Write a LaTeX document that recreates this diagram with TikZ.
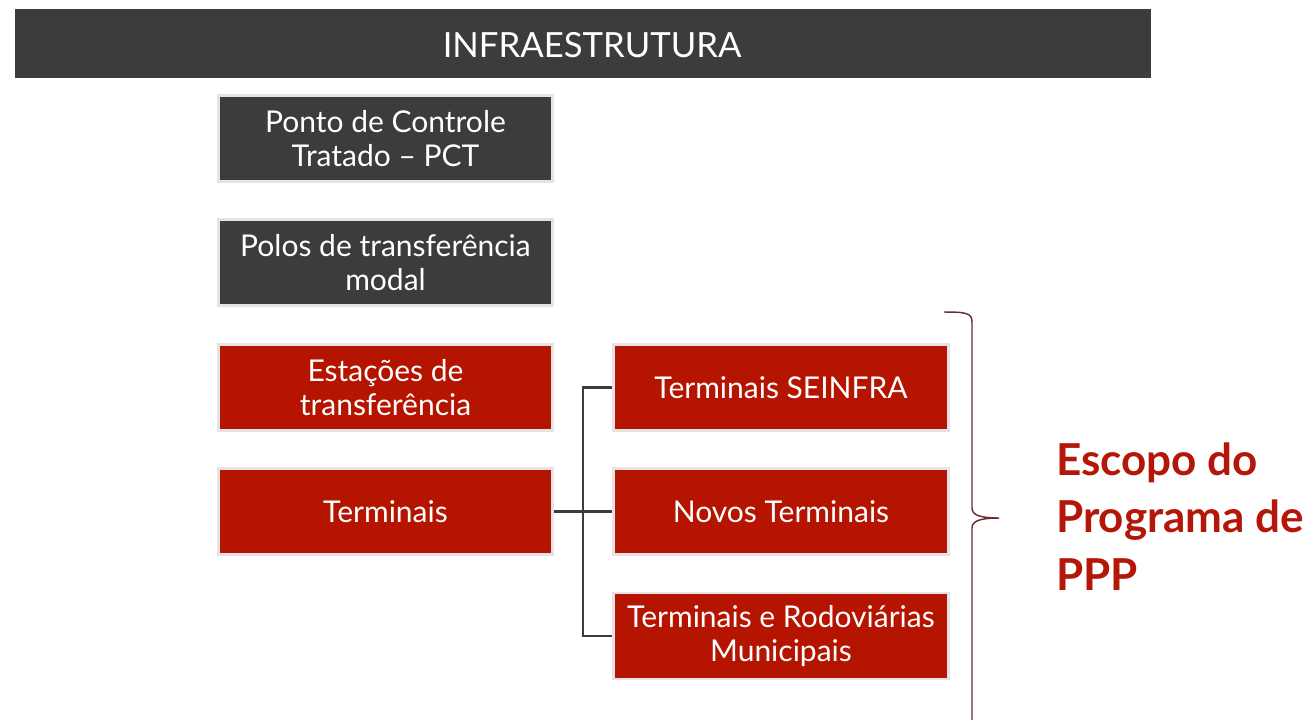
\documentclass[tikz,border=0pt]{standalone}
\usepackage{fontspec}
\setmainfont{Lato}
\usetikzlibrary{calc}
\definecolor{hdr}{RGB}{60,60,60}
\definecolor{redbox}{RGB}{180,20,0}
\definecolor{bord}{RGB}{228,228,228}
\definecolor{bracec}{RGB}{110,45,45}
\definecolor{esc}{RGB}{180,22,8}
\begin{document}
\begin{tikzpicture}[x=0.75pt,y=-0.75pt,
  box/.style={draw=bord,line width=2.2pt,minimum width=251pt,minimum height=64.5pt,
    inner sep=0pt,text=white,align=center,font=\fontsize{22.5}{25}\selectfont},
  darkbox/.style={box,fill=hdr},
  redbx/.style={box,fill=redbox},
  conn/.style={draw=hdr,line width=1.6pt},
  escl/.style={anchor=base west,inner sep=0pt,text=esc,font=\fontsize{33}{43}\selectfont\bfseries}]
\useasboundingbox (0,0) rectangle (1314,719);
\fill[white] (0,0) rectangle (1314,719);
\fill[hdr] (15,9) rectangle (1151,78);
\node[text=white,font=\fontsize{26}{30}\selectfont] (hdrtxt) at (592,45) {INFRAESTRUTURA};
\node[darkbox] (pct) at (385.5,138.5) {Ponto de Controle\\Tratado -- PCT};
\node[darkbox] (polos) at (385.5,262.5) {Polos de transferência\\modal};
\node[redbx] (est) at (385.5,387.5) {Estações de\\transferência};
\node[redbx] (term) at (385.5,511.5) {Terminais};
\node[redbx] (seinfra) at (781,387.5) {Terminais SEINFRA};
\node[redbx] (novos) at (781,511.5) {Novos Terminais};
\node[redbx] (munic) at (781,636) {Terminais e Rodoviárias\\Municipais};
\coordinate (trunk) at ($(term.east)!0.5!(novos.west)$);
\draw[conn] (term.east) -- (novos.west);
\draw[conn] (seinfra.west) -| (trunk) |- (munic.west);
\begin{scope}
\clip (0,0) rectangle (1314,719);
\draw[bracec,line width=1.1pt] (944,312) .. controls (966,312) and (972,313) .. (972,322)
  -- (972,508) .. controls (972,515) and (980,518) .. (999,518)
  .. controls (980,518) and (972,521) .. (972,528) -- (972,730);
\end{scope}
\node[escl] (esc1) at (1056,475) {Escopo do};
\node[escl] (esc2) at (1056,532) {Programa de};
\node[escl] (esc3) at (1056,590) {PPP};
\end{tikzpicture}
\end{document}
